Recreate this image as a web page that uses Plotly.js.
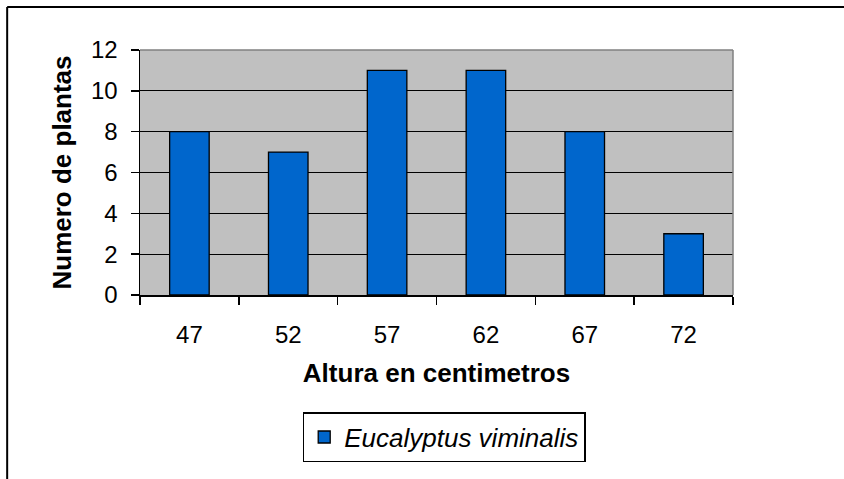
<!DOCTYPE html>
<html>
<head>
<meta charset="utf-8">
<script src="https://cdn.plot.ly/plotly-3.0.1.min.js"></script>
<style>html,body{margin:0;padding:0;background:#fff;}#chart{width:844px;height:479px;}</style>
</head>
<body>
<div id="chart"></div>
<script>
var categories = ["47", "52", "57", "62", "67", "72"];
var plantCounts = [8, 7, 11, 11, 8, 3];
var seriesName = "Eucalyptus viminalis";
var yTickValues = [0, 2, 4, 6, 8, 10, 12];

var trace = {
  type: "bar",
  x: categories,
  y: plantCounts,
  name: "<i>" + seriesName + "</i>",
  showlegend: true,
  marker: {color: "#0066CC", line: {color: "#000000", width: 1.3}},
  hoverinfo: "x+y"
};

var layout = {
  width: 844, height: 479,
  margin: {l: 140, r: 111, t: 50, b: 184},
  paper_bgcolor: "#ffffff",
  plot_bgcolor: "#C0C0C0",
  bargap: 0.6,
  font: {family: "Liberation Sans, Arial, sans-serif", color: "#000000", size: 24},
  xaxis: {
    type: "category",
    tickson: "boundaries",
    ticks: "outside", ticklen: 8, tickcolor: "#000", tickwidth: 1.5,
    ticklabelstandoff: 18,
    showline: true, linecolor: "#000", linewidth: 1.5,
    showgrid: false, zeroline: false,
    tickfont: {size: 24},
    title: {text: "<b>Altura en centimetros</b>", font: {size: 26}, standoff: 16}
  },
  yaxis: {
    range: [0, 12], tickvals: yTickValues,
    ticks: "outside", ticklen: 8, tickcolor: "#000", tickwidth: 1.5,
    ticklabelstandoff: 8,
    showline: true, linecolor: "#000", linewidth: 1.5,
    showgrid: true, gridcolor: "#000", gridwidth: 1.2,
    zeroline: false,
    tickfont: {size: 24},
    title: {text: "<b>Numero de plantas</b>", font: {size: 26}, standoff: 12}
  },
  legend: {
    x: 0.513, y: -0.478, xanchor: "center", yanchor: "top",
    orientation: "h",
    bordercolor: "#000", borderwidth: 1.5, bgcolor: "#fff",
    font: {size: 26},
    itemwidth: 30
  },
  shapes: [
    {type: "line", xref: "paper", yref: "paper", x0: 0, x1: 1, y0: 1, y1: 1, line: {color: "#808080", width: 1.5}},
    {type: "line", xref: "paper", yref: "paper", x0: 1, x1: 1, y0: 0, y1: 1, line: {color: "#808080", width: 1.5}},
    {type: "line", xref: "paper", yref: "paper", x0: -0.224, x1: 1.2, y0: 1.176, y1: 1.176, line: {color: "#000", width: 2}},
    {type: "line", xref: "paper", yref: "paper", x0: -0.224, x1: -0.224, y0: -0.8, y1: 1.176, line: {color: "#000", width: 2}}
  ]
};

Plotly.newPlot("chart", [trace], layout, {displayModeBar: false, staticPlot: true});
</script>
</body>
</html>
